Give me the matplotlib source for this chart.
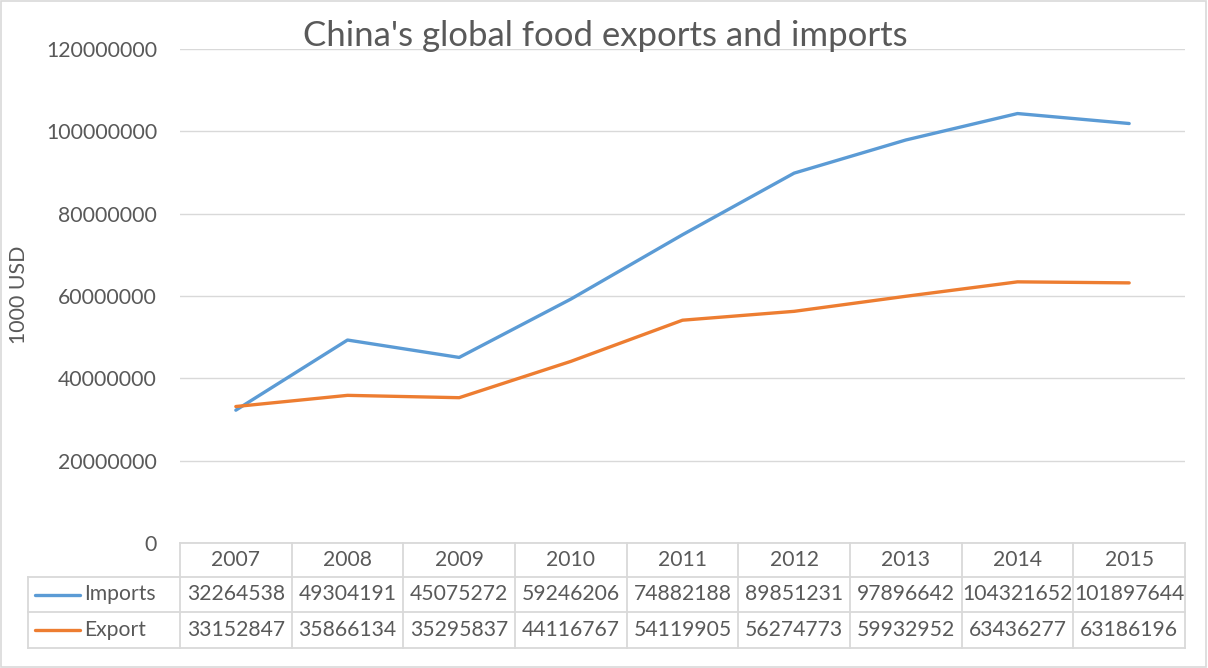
import matplotlib
matplotlib.use("Agg")
import matplotlib.pyplot as plt
from matplotlib.lines import Line2D
from matplotlib.patches import Rectangle

years = ["2007", "2008", "2009", "2010", "2011", "2012", "2013", "2014", "2015"]
imports = [32264538, 49304191, 45075272, 59246206, 74882188, 89851231, 97896642, 104321652, 101897644]
exports = [33152847, 35866134, 35295837, 44116767, 54119905, 56274773, 59932952, 63436277, 63186196]
yticks = [0, 20000000, 40000000, 60000000, 80000000, 100000000, 120000000]
title = "China's global food exports and imports"
ylabel = "1000 USD"

BLUE = "#5B9BD5"
ORANGE = "#ED7D31"
TXT = "#595959"
GRID = "#D9D9D9"
FONT = "Lato"
TFS = 15.2   # table font size
AFS = 15.3   # axis font size

W, H = 1208, 668
fig = plt.figure(figsize=(W / 100, H / 100), dpi=100)
fig.patch.set_facecolor("white")

def fx(px):
    return px / W

def fy(py):
    return 1 - py / H

x0, x1 = 180, 1185
y_top, y_bot = 49, 543
ax = fig.add_axes([fx(x0), fy(y_bot), fx(x1) - fx(x0), fy(y_top) - fy(y_bot)])
n = len(years)
xs = [i + 0.5 for i in range(n)]
ax.plot(xs, imports, color=BLUE, lw=2.4, solid_capstyle="round", solid_joinstyle="round")
ax.plot(xs, exports, color=ORANGE, lw=2.4, solid_capstyle="round", solid_joinstyle="round")
ax.set_xlim(0, n)
ax.set_ylim(0, 120000000)
ax.set_yticks(yticks)
ax.set_yticklabels([str(v) for v in yticks], fontsize=AFS, color=TXT, family=FONT)
ax.tick_params(axis="y", length=0, pad=16.5)
ax.set_xticks([])
ax.grid(axis="y", color=GRID, lw=1)
ax.set_axisbelow(True)
for s in ax.spines.values():
    s.set_visible(False)

fig.text(fx(605), fy(36), title, ha="center", va="center", fontsize=25, color=TXT, family=FONT)
fig.text(fx(19), fy(295), ylabel, ha="center", va="center", rotation=90, fontsize=AFS, color=TXT, family=FONT)

# data table
cw = (x1 - x0) / n
r0, r1, r2, r3 = 543, 577, 612, 648
tl = 28
lc = dict(color=GRID, lw=1.3, transform=fig.transFigure)
fig.add_artist(Line2D([fx(x0), fx(x1)], [fy(r0), fy(r0)], **lc))
for r in (r1, r2, r3):
    fig.add_artist(Line2D([fx(tl), fx(x1)], [fy(r), fy(r)], **lc))
fig.add_artist(Line2D([fx(tl), fx(tl)], [fy(r1), fy(r3)], **lc))
for i in range(n + 1):
    xx = x0 + i * cw
    fig.add_artist(Line2D([fx(xx), fx(xx)], [fy(r0), fy(r3)], **lc))

for i, yr in enumerate(years):
    cx = x0 + (i + 0.5) * cw
    fig.text(fx(cx), fy((r0 + r1) / 2), yr, ha="center", va="center", fontsize=TFS, color=TXT, family=FONT)
    fig.text(fx(cx), fy((r1 + r2) / 2), str(imports[i]), ha="center", va="center", fontsize=TFS, color=TXT, family=FONT)
    fig.text(fx(cx), fy((r2 + r3) / 2), str(exports[i]), ha="center", va="center", fontsize=TFS, color=TXT, family=FONT)

for (name, col, ra, rb) in (("Imports", BLUE, r1, r2), ("Export", ORANGE, r2, r3)):
    ym = fy((ra + rb) / 2)
    fig.add_artist(Line2D([fx(35), fx(80)], [ym, ym], color=col, lw=2.4, solid_capstyle="round", transform=fig.transFigure))
    fig.text(fx(84), ym, name, ha="left", va="center", fontsize=TFS, color=TXT, family=FONT)

fig.add_artist(Rectangle((0.0005, 0.001), 0.998, 0.997, fill=False, edgecolor="#D9D9D9", lw=1.2, transform=fig.transFigure))

fig.savefig("out.png", dpi=100, facecolor="white")
